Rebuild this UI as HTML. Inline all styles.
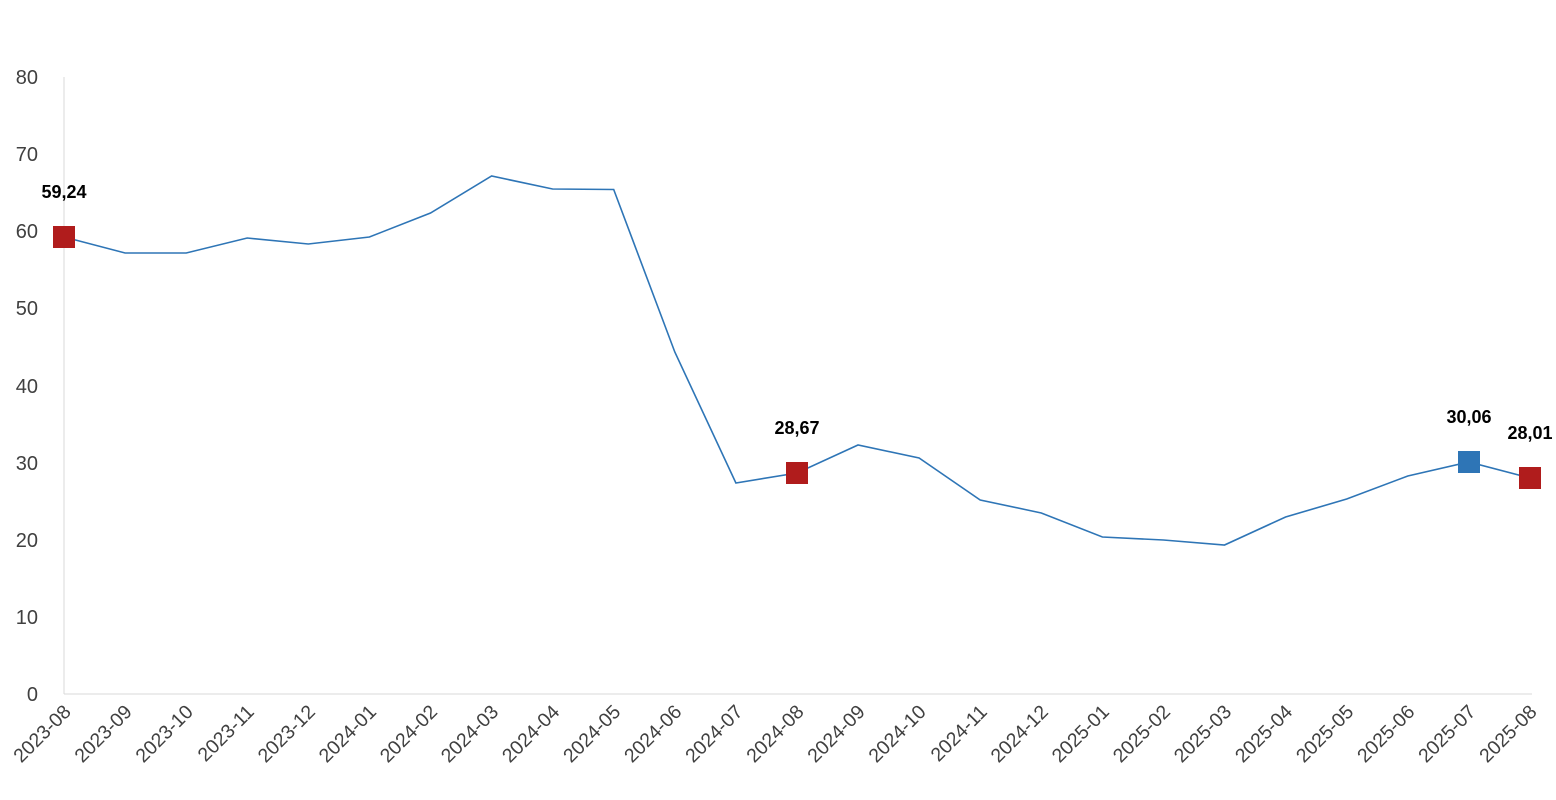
<!DOCTYPE html>
<html><head><meta charset="utf-8"><style>
html,body{margin:0;padding:0;background:#fff;}
svg{display:block;font-family:"Liberation Sans",sans-serif;}
</style></head><body>
<svg width="1556" height="800" viewBox="0 0 1556 800">
<line x1="64" y1="77" x2="64" y2="694" stroke="#d9d9d9" stroke-width="1"/>
<line x1="64" y1="694" x2="1532" y2="694" stroke="#d9d9d9" stroke-width="1"/>
<g font-size="20" fill="#404040" text-anchor="end">
<text x="38" y="701">0</text>
<text x="38" y="624">10</text>
<text x="38" y="547">20</text>
<text x="38" y="470">30</text>
<text x="38" y="393">40</text>
<text x="38" y="315">50</text>
<text x="38" y="238">60</text>
<text x="38" y="161">70</text>
<text x="38" y="84">80</text>
</g>
<g id="xl" font-size="19.5" fill="#404040" text-anchor="end"></g>
<polyline fill="none" stroke="#2e75b6" stroke-width="1.6" points="64,237 125.1,253 186.2,253 247.2,238 308.3,244 369.4,237 430.5,213 491.6,176 552.6,189 613.7,189.5 674.8,352 735.9,483 797,473 858,445 919.1,458 980.2,500 1041.3,513 1102.4,537 1163.4,540 1224.5,545 1285.6,517 1346.7,499 1407.8,476 1468.8,462 1530,478"/>
<rect x="53" y="226" width="22" height="22" fill="#b01c1c"/>
<rect x="786" y="462" width="22" height="22" fill="#b01c1c"/>
<rect x="1458" y="451" width="22" height="22" fill="#2e75b6"/>
<rect x="1519" y="467" width="22" height="22" fill="#b01c1c"/>
<g font-size="18" font-weight="bold" fill="#000" text-anchor="middle">
<text x="64" y="198">59,24</text>
<text x="797" y="434">28,67</text>
<text x="1469" y="423">30,06</text>
<text x="1530" y="439">28,01</text>
</g>
</svg>
<script>
var labels=["2023-08","2023-09","2023-10","2023-11","2023-12","2024-01","2024-02","2024-03","2024-04","2024-05","2024-06","2024-07","2024-08","2024-09","2024-10","2024-11","2024-12","2025-01","2025-02","2025-03","2025-04","2025-05","2025-06","2025-07","2025-08"];
var g=document.getElementById("xl");
labels.forEach(function(l,i){var x=64+i*61.08+8,y=713;
var t=document.createElementNS("http://www.w3.org/2000/svg","text");
t.setAttribute("x",x);t.setAttribute("y",y);
t.setAttribute("transform","rotate(-45 "+x+" "+y+")");t.textContent=l;g.appendChild(t);});
</script>
</body></html>
